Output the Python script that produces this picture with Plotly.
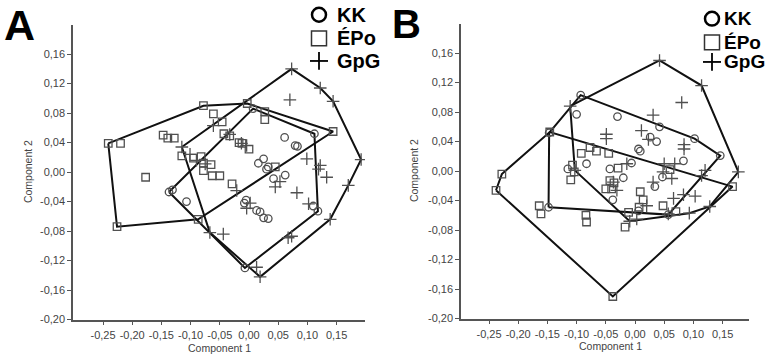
import plotly.graph_objects as go

W, H = 771, 361

# ---------------- Panel A data ----------------
kk_a_x = [-0.137, -0.131, -0.107, 0.007, 0.061, 0.079, 0.083, 0.112, 0.025, 0.016, 0.033, 0.042,
          0.062, 0.030, -0.005, -0.008, 0.013, 0.019, 0.025, 0.033, -0.007, 0.110, 0.118]
kk_a_y = [-0.027, -0.024, -0.040, 0.086, 0.047, 0.036, 0.035, 0.052, 0.018, 0.012, 0.007, -0.009,
          -0.004, 0.004, -0.038, -0.042, -0.052, -0.054, -0.062, -0.063, -0.130, -0.046, -0.053]

epo_a_x = [-0.241, -0.220, -0.078, -0.061, -0.046, -0.003, 0.027, 0.027, 0.144, -0.147, -0.139,
           -0.128, -0.043, -0.033, -0.017, -0.012, 0.000, -0.115, -0.095, -0.082, -0.078, -0.065,
           -0.078, -0.063, -0.050, -0.029, -0.177, -0.226, -0.087, 0.045]
epo_a_y = [0.039, 0.039, 0.090, 0.079, 0.068, 0.093, 0.082, 0.071, 0.055, 0.050, 0.046,
           0.046, 0.052, 0.049, 0.040, 0.039, 0.031, 0.022, 0.019, 0.021, 0.012, 0.010,
           0.002, -0.005, -0.005, -0.016, -0.007, -0.074, -0.064, 0.007]

gpg_a_x = [-0.115, 0.073, 0.122, 0.144, 0.192, 0.170, 0.139, 0.019, 0.013, -0.067, -0.044, 0.070,
           -0.061, -0.101, -0.090, -0.075, -0.033, -0.013, -0.004, -0.021, 0.002, -0.004, 0.045,
           0.053, 0.082, 0.133, 0.102, 0.067, 0.073, 0.119, 0.099, 0.122]
gpg_a_y = [0.034, 0.140, 0.114, 0.096, 0.017, -0.018, -0.064, -0.142, -0.129, -0.082, -0.084, 0.098,
           0.063, 0.024, 0.016, 0.011, 0.051, 0.039, 0.036, -0.025, -0.042, -0.049, -0.020,
           -0.013, -0.028, -0.007, -0.043, -0.089, -0.087, 0.004, 0.018, 0.009]

# ---------------- Panel B data ----------------
kk_b_x = [-0.093, -0.100, -0.030, 0.042, 0.102, 0.146, 0.026, 0.037, 0.006, 0.009, 0.083, -0.083,
          -0.115, -0.043, -0.006, -0.020, -0.038, 0.034, 0.047, 0.006, -0.148, -0.147, 0.057]
kk_b_y = [0.103, 0.077, 0.074, 0.060, 0.044, 0.021, 0.046, 0.040, 0.030, 0.027, 0.014, 0.010,
          0.003, 0.003, 0.011, -0.009, -0.039, -0.021, -0.008, -0.054, -0.049, 0.052, -0.059]

epo_b_x = [-0.228, -0.238, -0.164, -0.161, -0.146, -0.084, -0.083, -0.038, -0.017, -0.011, 0.007,
           0.048, 0.070, 0.167, -0.110, -0.104, -0.050, -0.040, -0.043, -0.036, -0.092, -0.077,
           -0.066, -0.045, -0.107, -0.029, 0.060, 0.009, 0.014]
epo_b_y = [-0.004, -0.026, -0.047, -0.058, 0.053, -0.060, -0.069, -0.170, -0.076, -0.056, -0.049,
           -0.047, -0.055, -0.021, -0.012, -0.001, -0.024, -0.024, -0.013, -0.016, 0.024, 0.032,
           0.027, 0.024, 0.008, 0.004, 0.002, -0.028, -0.039]

gpg_b_x = [0.042, 0.114, 0.177, 0.128, 0.093, -0.009, -0.103, -0.111, 0.080, 0.031, -0.049, -0.049,
           0.011, 0.023, 0.084, 0.084, -0.014, 0.050, 0.068, 0.048, 0.120, 0.031, 0.063, 0.066,
           0.083, 0.103, 0.020, -0.031, -0.037, 0.114, 0.057, 0.003]
gpg_b_y = [0.150, 0.116, -0.001, -0.048, -0.057, -0.068, 0.001, 0.088, 0.093, 0.076, 0.050, 0.044,
           0.055, 0.043, 0.036, 0.030, 0.010, 0.010, 0.010, -0.001, 0.001, -0.015, -0.010, -0.037,
           -0.032, -0.034, -0.047, -0.026, -0.015, -0.006, -0.058, -0.065]

# ---------------- axis ticks ----------------
x_tick_vals = [-0.25, -0.20, -0.15, -0.10, -0.05, 0.00, 0.05, 0.10, 0.15]
x_tick_text = ["-0,25", "-0,20", "-0,15", "-0,10", "-0,05", "0,00", "0,05", "0,10", "0,15"]
y_tick_vals = [-0.20, -0.16, -0.12, -0.08, -0.04, 0.00, 0.04, 0.08, 0.12, 0.16]
y_tick_text = ["-0,20", "-0,16", "-0,12", "-0,08", "-0,04", "0,00", "0,04", "0,08", "0,12", "0,16"]

group_names = ["KK", "ÉPo", "GpG"]


def convex_hull(xs, ys):
    pts = sorted(set(zip(xs, ys)))

    def cross(o, a, b):
        return (a[0] - o[0]) * (b[1] - o[1]) - (a[1] - o[1]) * (b[0] - o[0])

    lower = []
    for p in pts:
        while len(lower) >= 2 and cross(lower[-2], lower[-1], p) <= 0:
            lower.pop()
        lower.append(p)
    upper = []
    for p in reversed(pts):
        while len(upper) >= 2 and cross(upper[-2], upper[-1], p) <= 0:
            upper.pop()
        upper.append(p)
    h = lower[:-1] + upper[:-1]
    h.append(h[0])
    return [p[0] for p in h], [p[1] for p in h]


MC = "#505050"
symbols = {"KK": "circle-open", "ÉPo": "square-open", "GpG": "cross-thin-open"}
sizes = {"KK": 7.5, "ÉPo": 7.5, "GpG": 9}

fig = go.Figure()

panels = [
    ("x", "y", [(kk_a_x, kk_a_y), (epo_a_x, epo_a_y), (gpg_a_x, gpg_a_y)]),
    ("x2", "y2", [(kk_b_x, kk_b_y), (epo_b_x, epo_b_y), (gpg_b_x, gpg_b_y)]),
]

for xa, ya, groups in panels:
    for name, (gx, gy) in zip(group_names, groups):
        hx, hy = convex_hull(gx, gy)
        fig.add_trace(go.Scatter(x=hx, y=hy, mode="lines", xaxis=xa, yaxis=ya,
                                 line=dict(color="#111111", width=2), showlegend=False,
                                 hoverinfo="skip"))
    for name, (gx, gy) in zip(group_names, groups):
        fig.add_trace(go.Scatter(x=gx, y=gy, mode="markers", xaxis=xa, yaxis=ya, name=name,
                                 marker=dict(symbol=symbols[name], size=sizes[name], color=MC,
                                             line=dict(width=1.3, color=MC)),
                                 showlegend=False))


def px(x):
    return x / W


def py(y):
    return 1 - y / H


FONT = "Liberation Sans, Arial, sans-serif"
axis_common = dict(showgrid=False, zeroline=False, showline=True, linecolor="#555555", linewidth=1.5,
                   ticks="outside", ticklen=4, tickwidth=1, tickcolor="#555555",
                   tickfont=dict(family=FONT, size=11, color="#444444"))

fig.update_layout(
    width=W, height=H, margin=dict(l=0, r=0, t=0, b=0),
    paper_bgcolor="white", plot_bgcolor="white", showlegend=False,
    xaxis=dict(domain=[px(73), px(365)], range=[-0.30137, 0.19863], anchor="y",
               tickvals=x_tick_vals, ticktext=x_tick_text, **axis_common),
    yaxis=dict(domain=[py(325), py(25)], range=[-0.2, 0.2], anchor="x",
               tickvals=y_tick_vals, ticktext=y_tick_text, **axis_common),
    xaxis2=dict(domain=[px(461), px(749)], range=[-0.29795, 0.19521], anchor="y2",
                tickvals=x_tick_vals, ticktext=x_tick_text, **axis_common),
    yaxis2=dict(domain=[py(324), py(24)], range=[-0.2, 0.2], anchor="x2",
                tickvals=y_tick_vals, ticktext=y_tick_text, **axis_common),
)

ann = []
shapes = []
# Panel letters
ann.append(dict(text="<b>A</b>", x=px(19), y=py(25), xref="paper", yref="paper", showarrow=False,
                font=dict(family=FONT, size=43, color="black"), xanchor="center", yanchor="middle"))
ann.append(dict(text="<b>B</b>", x=px(406), y=py(24), xref="paper", yref="paper", showarrow=False,
                font=dict(family=FONT, size=40, color="black"), xanchor="center", yanchor="middle"))
# Axis titles
for cx, cy in [(219, 354), (610, 352)]:
    ann.append(dict(text="Component 1", x=px(cx), y=py(cy), xref="paper", yref="paper",
                    showarrow=False, font=dict(family=FONT, size=10.5, color="#444444"),
                    xanchor="center", yanchor="middle"))
for cx, cy in [(28, 175), (414, 174)]:
    ann.append(dict(text="Component 2", x=px(cx), y=py(cy), xref="paper", yref="paper",
                    showarrow=False, textangle=-90, font=dict(family=FONT, size=10.5, color="#444444"),
                    xanchor="center", yanchor="middle"))

# Legends (drawn keys): symbol centre x, text left x, row y centres, font size
legend_specs = [
    (319, 336, [15, 39, 62], 20),
    (712, 723, [19, 43, 63], 19),
]
for sx, tx, rows, fs in legend_specs:
    r = 7
    shapes.append(dict(type="circle", xref="paper", yref="paper",
                       x0=px(sx - r), x1=px(sx + r), y0=py(rows[0] + r), y1=py(rows[0] - r),
                       line=dict(color="black", width=2.5)))
    s = 7.5
    shapes.append(dict(type="rect", xref="paper", yref="paper",
                       x0=px(sx - s), x1=px(sx + s), y0=py(rows[1] + s), y1=py(rows[1] - s),
                       line=dict(color="#333333", width=1.5)))
    p = 9
    shapes.append(dict(type="line", xref="paper", yref="paper",
                       x0=px(sx - p), x1=px(sx + p), y0=py(rows[2]), y1=py(rows[2]),
                       line=dict(color="black", width=1.8)))
    shapes.append(dict(type="line", xref="paper", yref="paper",
                       x0=px(sx), x1=px(sx), y0=py(rows[2] - p), y1=py(rows[2] + p),
                       line=dict(color="black", width=1.8)))
    for name, ry in zip(group_names, rows):
        ann.append(dict(text="<b>" + name + "</b>", x=px(tx), y=py(ry), xref="paper", yref="paper",
                        showarrow=False, font=dict(family=FONT, size=fs, color="black"),
                        xanchor="left", yanchor="middle", borderpad=0))

fig.update_layout(annotations=ann, shapes=shapes)

fig.write_html("out.html", config={"displayModeBar": False},
               post_script="document.body.style.margin='0px';document.body.style.overflow='hidden';")
